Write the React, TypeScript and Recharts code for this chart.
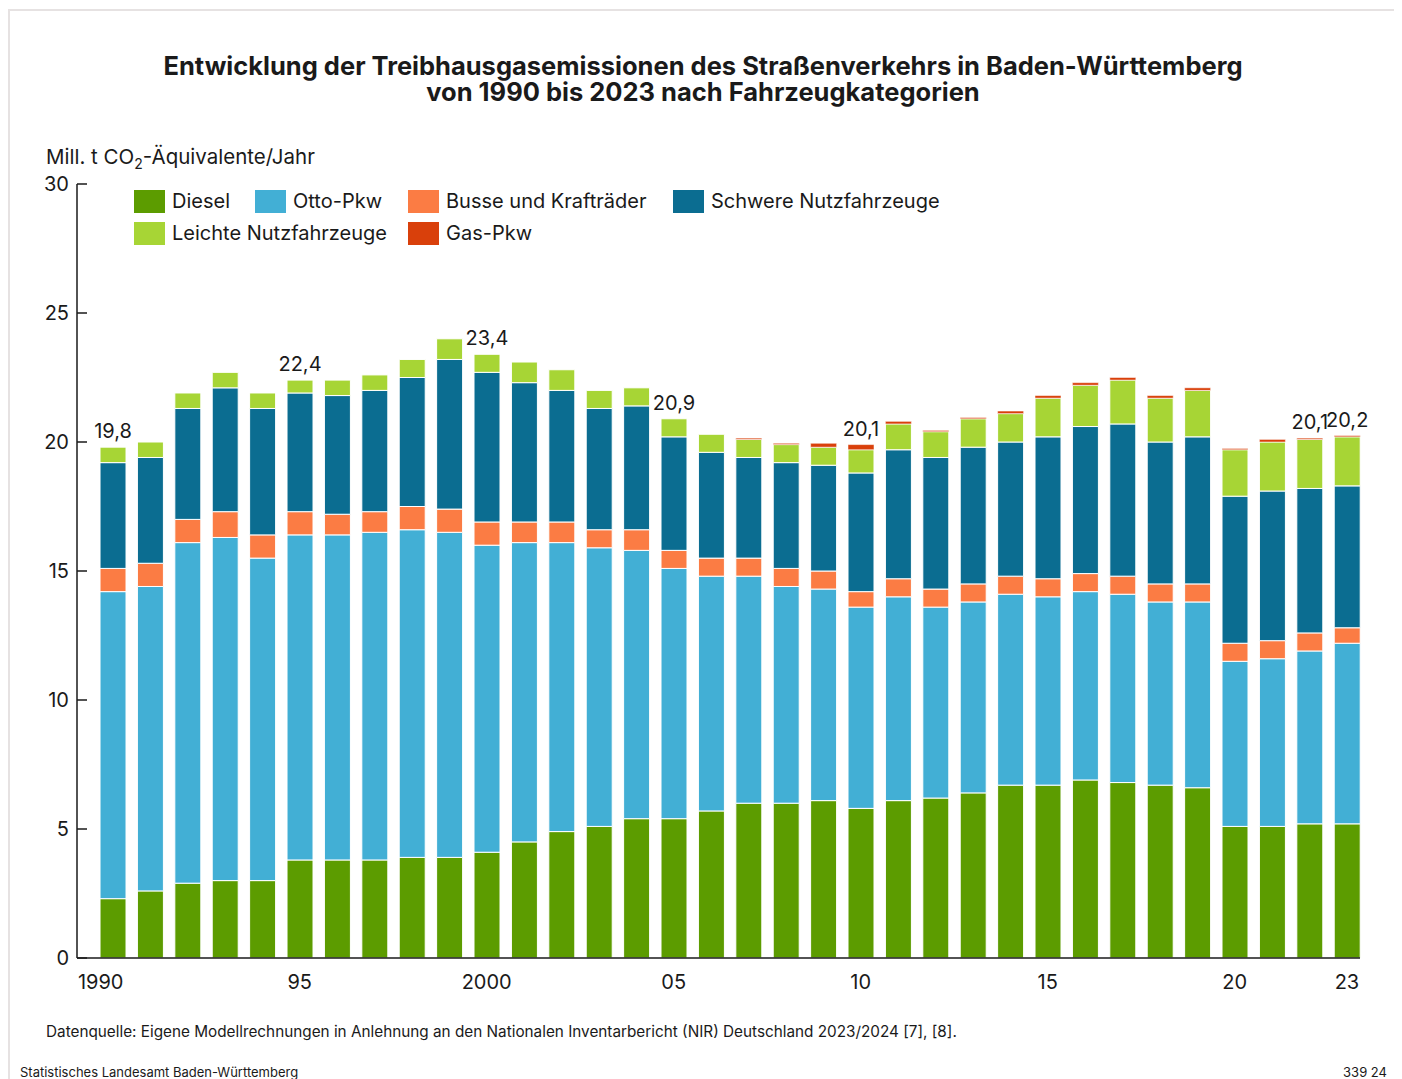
import { BarChart, Bar, XAxis, YAxis, LabelList } from "recharts";

const years = [
  1990, 1991, 1992, 1993, 1994, 1995, 1996, 1997, 1998, 1999, 2000, 2001,
  2002, 2003, 2004, 2005, 2006, 2007, 2008, 2009, 2010, 2011, 2012, 2013,
  2014, 2015, 2016, 2017, 2018, 2019, 2020, 2021, 2022, 2023,
];

const diesel = [
  2.3, 2.6, 2.9, 3.0, 3.0, 3.8, 3.8, 3.8, 3.9, 3.9, 4.1, 4.5, 4.9, 5.1, 5.4,
  5.4, 5.7, 6.0, 6.0, 6.1, 5.8, 6.1, 6.2, 6.4, 6.7, 6.7, 6.9, 6.8, 6.7, 6.6,
  5.1, 5.1, 5.2, 5.2,
];
const ottoPkw = [
  11.9, 11.8, 13.2, 13.3, 12.5, 12.6, 12.6, 12.7, 12.7, 12.6, 11.9, 11.6,
  11.2, 10.8, 10.4, 9.7, 9.1, 8.8, 8.4, 8.2, 7.8, 7.9, 7.4, 7.4, 7.4, 7.3,
  7.3, 7.3, 7.1, 7.2, 6.4, 6.5, 6.7, 7.0,
];
const busse = [
  0.9, 0.9, 0.9, 1.0, 0.9, 0.9, 0.8, 0.8, 0.9, 0.9, 0.9, 0.8, 0.8, 0.7, 0.8,
  0.7, 0.7, 0.7, 0.7, 0.7, 0.6, 0.7, 0.7, 0.7, 0.7, 0.7, 0.7, 0.7, 0.7, 0.7,
  0.7, 0.7, 0.7, 0.6,
];
const schwere = [
  4.1, 4.1, 4.3, 4.8, 4.9, 4.6, 4.6, 4.7, 5.0, 5.8, 5.8, 5.4, 5.1, 4.7, 4.8,
  4.4, 4.1, 3.9, 4.1, 4.1, 4.6, 5.0, 5.1, 5.3, 5.2, 5.5, 5.7, 5.9, 5.5, 5.7,
  5.7, 5.8, 5.6, 5.5,
];
const leichte = [
  0.6, 0.6, 0.6, 0.6, 0.6, 0.5, 0.6, 0.6, 0.7, 0.8, 0.7, 0.8, 0.8, 0.7, 0.7,
  0.7, 0.7, 0.7, 0.7, 0.7, 0.9, 1.0, 1.0, 1.1, 1.1, 1.5, 1.6, 1.7, 1.7, 1.8,
  1.8, 1.9, 1.9, 1.9,
];
const gasPkw = [
  0, 0, 0, 0, 0, 0, 0, 0, 0, 0, 0, 0, 0, 0, 0, 0, 0, 0.05, 0.05, 0.15, 0.2,
  0.1, 0.05, 0.05, 0.1, 0.1, 0.1, 0.1, 0.1, 0.1, 0.05, 0.1, 0.05, 0.05,
];

// Summenwerte, die über einzelnen Säulen stehen
const totals = [
  "19,8", "", "", "", "", "22,4", "", "", "", "", "23,4", "", "", "", "",
  "20,9", "", "", "", "", "20,1", "", "", "", "", "", "", "", "", "",
  "", "", "20,1", "20,2",
];

const xTicks = [1990, 1995, 2000, 2005, 2010, 2015, 2020, 2023];
const xTickLabels = ["1990", "95", "2000", "05", "10", "15", "20", "23"];
const yTicks = [0, 5, 10, 15, 20, 25, 30];

const series = [
  { key: "diesel", name: "Diesel", color: "#5c9c00" },
  { key: "otto", name: "Otto-Pkw", color: "#42afd5" },
  { key: "busse", name: "Busse und Krafträder", color: "#fb7c44" },
  { key: "schwere", name: "Schwere Nutzfahrzeuge", color: "#0b6d91" },
  { key: "leichte", name: "Leichte Nutzfahrzeuge", color: "#a7d535" },
  { key: "gas", name: "Gas-Pkw", color: "#d9400b" },
];

const data = years.map((year, i) => ({
  year,
  diesel: diesel[i],
  otto: ottoPkw[i],
  busse: busse[i],
  schwere: schwere[i],
  leichte: leichte[i],
  gas: gasPkw[i],
  // label sits on whichever segment is the top one
  labelLeichte: gasPkw[i] === 0 ? totals[i] : "",
  labelGas: gasPkw[i] > 0 ? totals[i] : "",
}));

const FONT = "Inter, 'Noto Sans', sans-serif";

const YTick = (props: any) => {
  const { x, y, payload } = props;
  return (
    <g>
      <line x1={x + 8} x2={x + 18} y1={y} y2={y} stroke="#1a1a1a" strokeWidth={1.5} />
      <text x={x} y={y} dy={7} textAnchor="end" fontSize={20} fill="#1a1a1a">
        {payload.value}
      </text>
    </g>
  );
};

const XTick = (props: any) => {
  const { x, y, payload } = props;
  const idx = xTicks.indexOf(payload.value);
  const shift = payload.value === 1990 ? -12 : 0;
  return (
    <text x={x + shift} y={y} dy={31} textAnchor="middle" fontSize={20} fill="#1a1a1a">
      {xTickLabels[idx]}
    </text>
  );
};

const TotalLabel = (props: any) => {
  const { x, y, width, value } = props;
  if (!value) return null;
  return (
    <text x={x + width / 2} y={y - 9} textAnchor="middle" fontSize={20} fill="#1a1a1a">
      {value}
    </text>
  );
};

// legend grid: row 1 = first four series, row 2 = Leichte (col 1), Gas-Pkw (col 3)
const legendCols = [1, 2, 3, 4, 1, 3];

const ChartLegend = () => (
  <div
    style={{
      position: "absolute",
      left: 126,
      top: 182,
      display: "grid",
      gridTemplateColumns: "121px 153px 265px auto",
      rowGap: 9,
      fontSize: 20,
    }}
  >
    {series.map((s, i) => (
      <div
        key={s.key}
        style={{
          display: "flex",
          alignItems: "center",
          gridColumn: legendCols[i],
          whiteSpace: "nowrap",
          lineHeight: "23px",
        }}
      >
        <span
          style={{
            width: 31,
            height: 23,
            flexShrink: 0,
            background: s.color,
            marginRight: 7,
            display: "inline-block",
          }}
        />
        {s.name}
      </div>
    ))}
  </div>
);

const titleStyle = {
  position: "absolute" as const,
  left: 0,
  width: 1390,
  textAlign: "center" as const,
  fontWeight: 700,
  fontSize: 25.5,
  lineHeight: "26px",
};

const App = () => {
  return (
    <div
      style={{
        position: "relative",
        width: 1394,
        height: 1071,
        overflow: "hidden",
        fontFamily: FONT,
        color: "#1a1a1a",
      }}
    >
      <div
        style={{
          position: "absolute",
          left: 0,
          top: 1,
          width: 1386,
          height: 1120,
          border: "2px solid #e6e2e2",
        }}
      />
      <div style={{ ...titleStyle, top: 45 }}>
        Entwicklung der Treibhausgasemissionen des Straßenverkehrs in Baden-Württemberg
      </div>
      <div style={{ ...titleStyle, top: 71 }}>von 1990 bis 2023 nach Fahrzeugkategorien</div>
      <div style={{ position: "absolute", left: 38, top: 137, fontSize: 20.5, lineHeight: "24px" }}>
        Mill. t CO<sub style={{ fontSize: 14 }}>2</sub>-Äquivalente/Jahr
      </div>

      <div style={{ position: "absolute", left: 0, top: 0 }}>
        <BarChart
          width={1386}
          height={1000}
          data={data}
          margin={{ top: 176, right: 34, bottom: 10, left: 0 }}
          style={{ fontFamily: FONT }}
        >
          <XAxis
            dataKey="year"
            type="number"
            domain={[1989.045, 2023.35]}
            ticks={xTicks}
            interval={0}
            height={40}
            tickLine={false}
            tickSize={0}
            tickMargin={0}
            tick={<XTick />}
            axisLine={{ stroke: "#1a1a1a", strokeWidth: 1.5 }}
          />
          <YAxis
            type="number"
            domain={[0, 30]}
            ticks={yTicks}
            width={69}
            tickLine={false}
            tickSize={0}
            tickMargin={8}
            tick={<YTick />}
            axisLine={{ stroke: "#1a1a1a", strokeWidth: 1.5 }}
          />
          {series.map((s) => (
            <Bar
              key={s.key}
              dataKey={s.key}
              name={s.name}
              stackId="a"
              fill={s.color}
              stroke="#ffffff"
              strokeWidth={s.key === "gas" ? 0.5 : 1}
              barSize={26}
              isAnimationActive={false}
            >
              {s.key === "leichte" && <LabelList dataKey="labelLeichte" content={<TotalLabel />} />}
              {s.key === "gas" && <LabelList dataKey="labelGas" content={<TotalLabel />} />}
            </Bar>
          ))}
        </BarChart>
      </div>
      <ChartLegend />

      <div style={{ position: "absolute", left: 38, top: 1014, fontSize: 15.3 }}>
        Datenquelle: Eigene Modellrechnungen in Anlehnung an den Nationalen Inventarbericht (NIR) Deutschland 2023/2024 [7], [8].
      </div>
      <div style={{ position: "absolute", left: 12, top: 1056, fontSize: 13 }}>
        Statistisches Landesamt Baden-Württemberg
      </div>
      <div style={{ position: "absolute", right: 15, top: 1056, fontSize: 13 }}>339 24</div>
    </div>
  );
};

export default App;
